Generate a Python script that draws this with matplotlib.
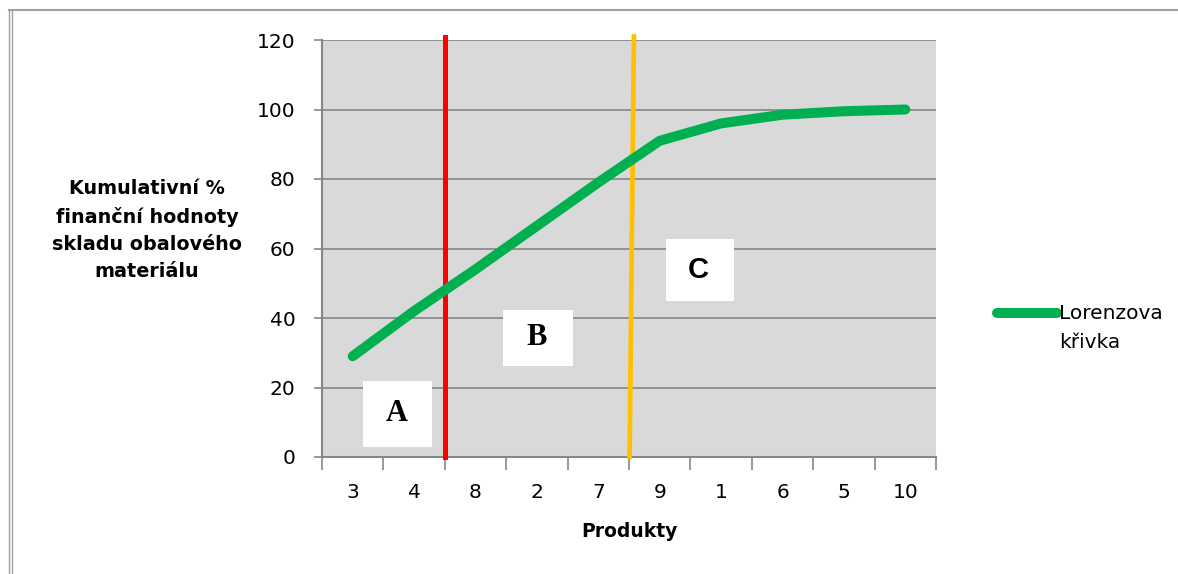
import matplotlib
matplotlib.use("Agg")
import numpy as np
import matplotlib.pyplot as plt
from matplotlib.patches import Rectangle
from matplotlib.lines import Line2D
from matplotlib.legend_handler import HandlerLine2D

# Products ordered by share (ABC analysis)
products = ["3", "4", "8", "2", "7", "9", "1", "6", "5", "10"]
cumulative_pct = [29, 42, 54, 66.5, 79, 91, 96, 98.5, 99.5, 100]

# Zone boundaries (x in category units, y range of the dividing lines)
red_x = [1.5, 1.5]
orange_x = [4.51, 4.58]
divider_y = [0, 121]

# Zone labels: (letter, x0, x1, y0, y1)
zones = [
    ("A", 0.17, 1.29, 2.9, 21.9),
    ("B", 2.44, 3.59, 26.3, 42.3),
    ("C", 5.10, 6.21, 45.0, 62.7),
]

SANS = ["DejaVu Sans"]
GRID = "#868686"
FS = 14.5


class FirstLineHandler(HandlerLine2D):
    """Puts the legend line next to the first line of a 2-line label."""
    dy = 11.2

    def create_artists(self, legend, orig_handle, xdescent, ydescent,
                       width, height, fontsize, trans):
        arts = super().create_artists(legend, orig_handle, xdescent, ydescent,
                                      width, height, fontsize, trans)
        for a in arts:
            a.set_ydata(np.asarray(a.get_ydata()) + self.dy)
        return arts


fig = plt.figure(figsize=(11.78, 5.74), dpi=100)
ax = fig.add_axes([322 / 1178, 1 - 457 / 574, (936 - 322) / 1178, (457 - 40) / 574])
ax.set_facecolor("#D9D9D9")

x = list(range(len(products)))
line, = ax.plot(x, cumulative_pct, color="#00B050", lw=7.2,
                solid_capstyle="round", solid_joinstyle="round", zorder=5,
                label="Lorenzova\nkřivka")
ax.plot(red_x, divider_y, color="#FF0000", lw=3.6, zorder=4, clip_on=False)
ax.plot(orange_x, divider_y, color="#FFC000", lw=3.4, zorder=4, clip_on=False)

for letter, x0, x1, y0, y1 in zones:
    ax.add_patch(Rectangle((x0, y0), x1 - x0, y1 - y0, facecolor="white",
                           edgecolor="none", zorder=3))
    if letter == "C":
        fam, size = ["Liberation Sans Narrow", "Liberation Sans"], 21
    else:
        fam, size = ["Liberation Serif"], 22
    ax.text((x0 + x1) / 2 - 0.02, (y0 + y1) / 2, letter, family=fam,
            fontsize=size, fontweight="bold", ha="center", va="center", zorder=6)

ax.set_xlim(-0.5, 9.5)
ax.set_ylim(0, 120)
ax.set_yticks(range(0, 121, 20))
ax.yaxis.grid(True, color=GRID, lw=1.2)
ax.set_axisbelow(True)

ax.set_xticks([i - 0.5 for i in range(len(products) + 1)])
ax.set_xticklabels([])
ax.set_xticks(x, minor=True)
ax.set_xticklabels(products, minor=True)
ax.tick_params(axis="x", which="major", length=9, color=GRID, width=1.2)
ax.tick_params(axis="x", which="minor", length=0, pad=19)
ax.tick_params(axis="y", length=6, color=GRID, width=1.2, pad=13)
for lab in ax.get_xticklabels(minor=True) + ax.get_yticklabels():
    lab.set_family(SANS)
    lab.set_fontsize(FS)

for side in ("top", "right"):
    ax.spines[side].set_visible(False)
for side in ("left", "bottom"):
    ax.spines[side].set_color(GRID)
    ax.spines[side].set_linewidth(1.5)

ax.set_xlabel("Produkty", family=SANS, fontsize=13.5, fontweight="bold", labelpad=14)
fig.text(147 / 1178, 1 - 230 / 574,
         "Kumulativní %\nfinanční hodnoty\nskladu obalového\nmateriálu",
         family=SANS, fontsize=13.8, fontweight="bold", ha="center", va="center",
         multialignment="center", linespacing=1.55)

leg = fig.legend(handles=[line], loc="center left",
                 bbox_to_anchor=(997 / 1178, 1 - 328 / 574),
                 frameon=False, handlelength=3.0, handletextpad=0.1,
                 borderpad=0, borderaxespad=0,
                 handler_map={Line2D: FirstLineHandler()},
                 prop={"family": SANS, "size": FS})
for t in leg.get_texts():
    t.set_linespacing(1.7)

# outer frame of the original chart object
fig.add_artist(Line2D([9 / 1178, 1], [1 - 10 / 574] * 2, color="#A0A0A0", lw=1.5))
for xl in (9, 12):
    fig.add_artist(Line2D([xl / 1178] * 2, [0, 1 - 10 / 574], color="#A0A0A0", lw=1))

fig.savefig("out.png", dpi=100)
